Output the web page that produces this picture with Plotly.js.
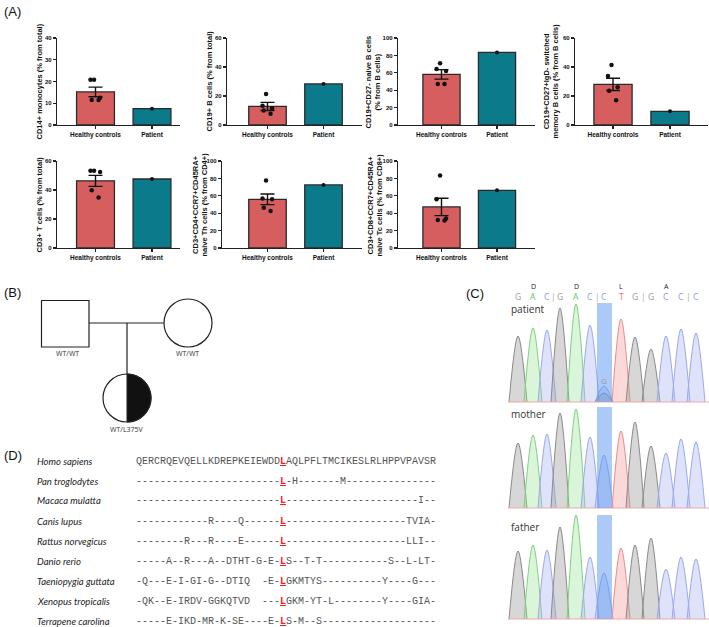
<!DOCTYPE html>
<html>
<head>
<meta charset="utf-8">
<script src="https://cdn.plot.ly/plotly-3.0.1.min.js"></script>
<style>body{margin:0;background:#fff}</style>
</head>
<body>
<div id="chart" style="width:709px;height:627px"></div>
<script>
var W = 709, H = 627;
function X(p) { return p / W; }
function Y(p) { return 1 - p / H; }

// ---- (A) flow cytometry ----
var groups = ['Healthy controls', 'Patient'];
var yTitles = [
  'CD14+ monocytes (% from total)',
  'CD19+ B cells (% from total)',
  'CD19+CD27- naive B cells<br>(% from B cells)',
  'CD19+CD27+IgD- switched<br>memory B cells (% from B cells)',
  'CD3+ T cells (% from total)',
  'CD3+CD4+CCR7+CD45RA+<br>naive Th cells (% from CD4+)',
  'CD3+CD8+CCR7+CD45RA+<br>naive Tc cells (% from CD8+)'
];
var controlMeans = [15.2, 12.8, 58.2, 28.0, 46.3, 55.9, 47.2];
var controlSem = [2.2, 2.8, 5.5, 4.2, 3.8, 6.1, 10.0];
var patientValues = [7.5, 28.3, 83.4, 9.4, 47.6, 72.5, 66.3];
var controlDots = [
  [20.8, 20.8, 11.5, 11.5, 12.5],
  [21.4, 13.2, 11.6, 10.0, 7.8],
  [71.0, 64.3, 62.0, 47.1, 47.1],
  [41.3, 33.8, 26.0, 23.7, 17.1],
  [53.2, 53.2, 52.5, 39.9, 34.9],
  [77.6, 57.0, 55.9, 46.4, 42.6],
  [83.3, 55.9, 33.8, 31.6, 32.3]
];
var yMax = [40, 60, 100, 60, 60, 100, 100];
var yStep = [10, 20, 20, 20, 20, 20, 20];

// pixel frames of the seven small plots (tx = centre of the y title)
var frames = [
  {x0: 57, x1: 180, c0: 95.5, c1: 152, yb: 125, yt: 38, tx: 39},
  {x0: 227, x1: 362, c0: 267.5, c1: 323.5, yb: 125, yt: 38, tx: 209},
  {x0: 398, x1: 535, c0: 441.5, c1: 497, yb: 125, yt: 38, tx: 373},
  {x0: 575, x1: 708, c0: 613, c1: 670, yb: 125, yt: 38, tx: 551},
  {x0: 57, x1: 180, c0: 95.5, c1: 152, yb: 248, yt: 161, tx: 39},
  {x0: 222, x1: 362, c0: 267.5, c1: 323.5, yb: 248, yt: 161, tx: 200},
  {x0: 398, x1: 535, c0: 441.5, c1: 497, yb: 248, yt: 161, tx: 375}
];

// ---- (C) chromatogram ----
var baseCalls = ['G', 'A', 'C', 'G', 'A', 'C', 'C', 'T', 'G', 'G', 'C', 'C', 'C'];
var peakPos = [518, 533, 547, 560, 576, 590, 604, 621, 635, 651, 666, 681, 696];
var patientPeaks = [66, 74, 72, 94, 98, 77, 16, 83, 65, 53, 66, 73, 69];
var motherPeaks = [65, 73, 74, 95, 99, 71, 53, 77, 86, 62, 55, 69, 66];
var fatherPeaks = [68, 74, 69, 92, 104, 62, 46, 71, 74, 81, 50, 62, 60];
var patientMinorG = 9;
var variantIndex = 6;
var aminoAcids = ['D', 'D', 'L', 'A'];

// ---- (D) alignment ----
var species = ['Homo sapiens', 'Pan troglodytes', 'Macaca mulatta', 'Canis lupus', 'Rattus norvegicus',
  'Danio rerio', 'Taeniopygia guttata', 'Xenopus tropicalis', 'Terrapene carolina'];
var sequences = [
  'QERCRQEVQELLKDREPKEIEWDDLAQLPFLTMCIKESLRLHPPVPAVSR',
  '------------------------L-H-------M---------------',
  '------------------------L----------------------I--',
  '------------R----Q------L--------------------TVIA-',
  '--------R---R----E------L--------------------LLI--',
  '-----A--R---A--DTHT-G-E-LS--T-T-----------S--L-LT-',
  '-Q---E-I-GI-G--DTIQ  -E-LGKMTYS----------Y----G---',
  '-QK--E-IRDV-GGKQTVD  ---LGKM-YT-L--------Y----GIA-',
  '-----E-IKD-MR-K-SE----E-LS-M--S-------------------'
];
var conservedIndex = 24;

var data = [];
var layout = {
  width: W, height: H,
  margin: {l: 0, r: 0, t: 0, b: 0},
  showlegend: false,
  hovermode: false,
  paper_bgcolor: 'white',
  plot_bgcolor: 'rgba(0,0,0,0)',
  font: {family: 'Liberation Sans, Arial, sans-serif', color: '#111'},
  shapes: [],
  annotations: []
};

// text at a pixel spot, centred unless told otherwise
function label(text, px, py, font, opts) {
  var a = {text: text, x: X(px), y: Y(py), xref: 'paper', yref: 'paper', showarrow: false,
    xanchor: 'center', yanchor: 'middle', font: font};
  for (var k in (opts || {})) a[k] = opts[k];
  layout.annotations.push(a);
}

var red = '#D65E5E', teal = '#0B7A8B';

frames.forEach(function (f, i) {
  var s = i === 0 ? '' : String(i + 1);
  var xa = 'x' + s, ya = 'y' + s;
  var unit = f.c1 - f.c0;
  layout['xaxis' + s] = {
    domain: [X(f.x0), X(f.x1)],
    range: [-(f.c0 - f.x0) / unit, 1 + (f.x1 - f.c1) / unit],
    anchor: ya, tickvals: [0, 1], ticktext: groups,
    ticks: 'outside', ticklen: 3, tickwidth: 1.2, tickcolor: '#222',
    showline: true, linecolor: '#222', linewidth: 1.2,
    showgrid: false, zeroline: false, fixedrange: true,
    tickfont: {size: 6.5, weight: 'bold', color: '#111'}
  };
  layout['yaxis' + s] = {
    domain: [Y(f.yb), Y(f.yt)],
    range: [0, yMax[i]], dtick: yStep[i], anchor: xa,
    ticks: 'outside', ticklen: 3, tickwidth: 1.2, tickcolor: '#222',
    showline: true, linecolor: '#222', linewidth: 1.2,
    showgrid: false, zeroline: false, fixedrange: true,
    tickfont: {size: 6, weight: 'bold', color: '#111'}
  };
  label('<b>' + yTitles[i] + '</b>', f.tx, (f.yb + f.yt) / 2,
    {family: 'Liberation Sans, Arial, sans-serif', size: 7.5, color: '#111'}, {textangle: -90});
  data.push({
    type: 'bar', x: [0, 1], y: [controlMeans[i], patientValues[i]], width: 0.67,
    xaxis: xa, yaxis: ya,
    marker: {color: [red, teal], line: {color: '#2a2a2a', width: 1.3}}
  });
  data.push({
    type: 'scatter', mode: 'markers', x: [0], y: [controlMeans[i]],
    xaxis: xa, yaxis: ya, marker: {size: 1, opacity: 0},
    error_y: {type: 'data', array: [controlSem[i]], visible: true, color: '#111', thickness: 1.4, width: 7}
  });
  data.push({
    type: 'box', orientation: 'v', x: controlDots[i].map(function () { return 0; }), y: controlDots[i],
    xaxis: xa, yaxis: ya, boxpoints: 'all', jitter: 0.7, pointpos: 0, width: 0.3,
    fillcolor: 'rgba(0,0,0,0)', line: {color: 'rgba(0,0,0,0)', width: 0}, whiskerwidth: 0,
    marker: {color: '#111', size: 4.5}
  });
  data.push({
    type: 'scatter', mode: 'markers', x: [1], y: [patientValues[i]],
    xaxis: xa, yaxis: ya, marker: {color: '#111', size: 4}
  });
});

// chromatogram panels
var baseColors = {
  G: {line: '#8a8a8a', fill: 'rgba(160,160,160,0.42)', text: '#9a9a9a'},
  A: {line: '#80d080', fill: 'rgba(150,225,150,0.35)', text: '#5cc85c'},
  C: {line: '#9ca8e8', fill: 'rgba(170,182,240,0.38)', text: '#8796ee'},
  T: {line: '#ee8a8a', fill: 'rgba(245,160,160,0.4)', text: '#f07070'}
};
var chromPanels = [
  {name: 'patient', peaks: patientPeaks, n: 8, base: 402, top: 303, label: 309},
  {name: 'mother', peaks: motherPeaks, n: 9, base: 508, top: 407, label: 414},
  {name: 'father', peaks: fatherPeaks, n: 10, base: 619, top: 515, label: 527}
];
var halfWidth = 9;
function peakTrace(pos, h, b, n) {
  return {
    type: 'scatter', mode: 'lines', x: [pos - halfWidth, pos, pos + halfWidth], y: [0, h, 0],
    xaxis: 'x' + n, yaxis: 'y' + n, fill: 'toself', fillcolor: baseColors[b].fill,
    line: {color: baseColors[b].line, width: 1, shape: 'spline', smoothing: 1}
  };
}
var chromFont = 'Open Sans, sans-serif';
chromPanels.forEach(function (p) {
  layout['xaxis' + p.n] = {domain: [X(505), X(709)], range: [505, 709], visible: false, fixedrange: true, anchor: 'y' + p.n};
  layout['yaxis' + p.n] = {domain: [Y(p.base), Y(p.base - 110)], range: [0, 110], visible: false, fixedrange: true, anchor: 'x' + p.n};
  layout.shapes.push({type: 'line', xref: 'x' + p.n, yref: 'paper', x0: 508, x1: 709, y0: Y(p.base), y1: Y(p.base),
    line: {color: '#f0a8a8', width: 1}});
  p.peaks.forEach(function (h, j) {
    data.push(peakTrace(peakPos[j], h, baseCalls[j], p.n));
  });
  layout.shapes.push({type: 'rect', xref: 'x' + p.n, yref: 'paper',
    x0: peakPos[variantIndex] - 7, x1: peakPos[variantIndex] + 8, y0: Y(p.base), y1: Y(p.top),
    fillcolor: 'rgba(90,150,240,0.5)', line: {width: 0}, layer: 'above'});
  label(p.name, 509, p.label, {family: chromFont, size: 10, color: '#333'}, {xanchor: 'left'});
});
data.push(peakTrace(peakPos[variantIndex], patientMinorG, 'G', 8));

// letters above the trace, placed on the trace's own x scale
function chromLetter(text, pos, py, size, color) {
  layout.annotations.push({text: text, x: pos, xref: 'x8', y: Y(py), yref: 'paper', showarrow: false,
    xanchor: 'center', yanchor: 'middle', font: {family: chromFont, size: size, color: color}});
}
chromLetter('G', peakPos[variantIndex], 380, 8, '#999');
baseCalls.forEach(function (b, j) {
  chromLetter(b, peakPos[j], 297, 8.5, baseColors[b].text);
  if (j % 3 === 2 && j + 1 < baseCalls.length) {
    chromLetter('|', (peakPos[j] + peakPos[j + 1]) / 2, 297, 8.5, '#aaa');
  }
});
aminoAcids.forEach(function (aa, k) {
  chromLetter(aa, peakPos[3 * k + 1], 286, 7, '#222');
});

// pedigree
var ped = '#222';
layout.shapes.push({type: 'rect', xref: 'paper', yref: 'paper', x0: X(41.5), x1: X(89), y0: Y(347), y1: Y(300.5), line: {color: ped, width: 1.2}});
layout.shapes.push({type: 'circle', xref: 'paper', yref: 'paper', x0: X(164), x1: X(212), y0: Y(347), y1: Y(299), line: {color: ped, width: 1.2}});
layout.shapes.push({type: 'line', xref: 'paper', yref: 'paper', x0: X(89), x1: X(164), y0: Y(323), y1: Y(323), line: {color: ped, width: 1.2}});
layout.shapes.push({type: 'line', xref: 'paper', yref: 'paper', x0: X(127), x1: X(127), y0: Y(323), y1: Y(374), line: {color: ped, width: 1.2}});
(function () {
  var cx = 127, cy = 398, r = 24, k = 0.5523;
  function P(x, y) { return X(x) + ',' + Y(y); }
  var path = 'M' + P(cx, cy - r) +
    ' C' + P(cx + k * r, cy - r) + ' ' + P(cx + r, cy - k * r) + ' ' + P(cx + r, cy) +
    ' C' + P(cx + r, cy + k * r) + ' ' + P(cx + k * r, cy + r) + ' ' + P(cx, cy + r) + ' Z';
  layout.shapes.push({type: 'path', xref: 'paper', yref: 'paper', path: path, fillcolor: '#111', line: {color: ped, width: 1}});
  layout.shapes.push({type: 'circle', xref: 'paper', yref: 'paper', x0: X(cx - r), x1: X(cx + r), y0: Y(cy + r), y1: Y(cy - r), line: {color: ped, width: 1.2}});
})();
label('WT/WT', 67, 353, {family: chromFont, size: 7, color: '#333'});
label('WT/WT', 188, 353, {family: chromFont, size: 7, color: '#333'});
label('WT/L375V', 127, 430, {family: chromFont, size: 7, color: '#333'});

// alignment
species.forEach(function (sp, i) {
  var py = 461 + 20 * i;
  label('<i>' + sp + '</i>', 35, py, {family: 'Lato, sans-serif', size: 9.5, color: '#222'}, {xanchor: 'left'});
  var seq = sequences[i].replace(/ /g, '\u00a0');
  var txt = seq.slice(0, conservedIndex) +
    '<span style="color:#ff1a1a"><b><u>' + seq.charAt(conservedIndex) + '</u></b></span>' +
    seq.slice(conservedIndex + 1);
  label(txt, 134, py, {family: 'Liberation Mono, monospace', size: 10, color: '#555'}, {xanchor: 'left'});
});

// panel letters
var letterFont = {family: 'Liberation Sans, Arial, sans-serif', size: 13, color: '#111'};
label('(A)', 2, 12, letterFont, {xanchor: 'left'});
label('(B)', 2, 292, letterFont, {xanchor: 'left'});
label('(C)', 464, 293, letterFont, {xanchor: 'left'});
label('(D)', 2, 455, letterFont, {xanchor: 'left'});

Plotly.newPlot('chart', data, layout, {displayModeBar: false, staticPlot: true});
</script>
</body>
</html>
